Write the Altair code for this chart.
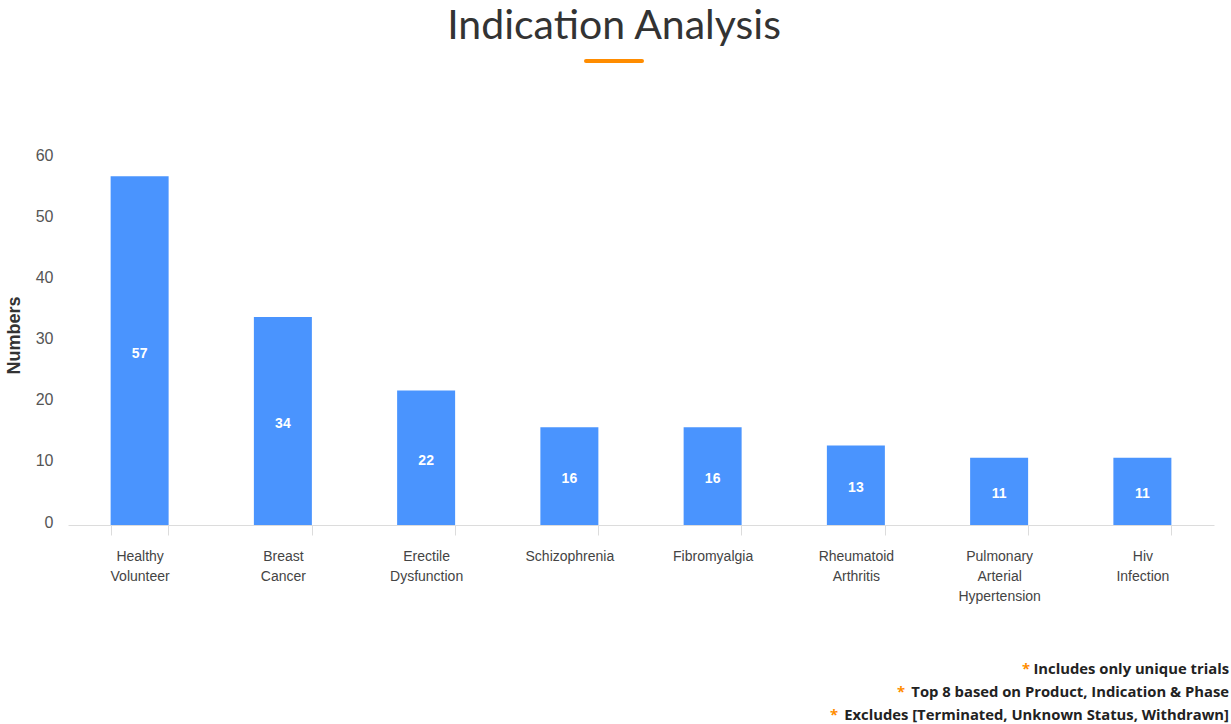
import altair as alt
import pandas as pd

categories = ["Healthy Volunteer", "Breast Cancer", "Erectile Dysfunction", "Schizophrenia",
              "Fibromyalgia", "Rheumatoid Arthritis", "Pulmonary Arterial Hypertension", "Hiv Infection"]
values = [57, 34, 22, 16, 16, 13, 11, 11]
notes = ["Includes only unique trials",
         "Top 8 based on Product, Indication & Phase",
         "Excludes [Terminated, Unknown Status, Withdrawn]"]
note_y = [670, 693, 716]
note_star_x = [1026, 901, 834]

df = pd.DataFrame({"cat": categories, "val": values})
W, H = 1146, 367
PL, PT = 68, 158

x = alt.X("cat:N", sort=categories, title=None,
          scale=alt.Scale(paddingInner=0.6, paddingOuter=0.3),
          axis=alt.Axis(labelAngle=0, labelExpr="split(datum.label, ' ')",
                        labelFont="Liberation Sans", labelFontSize=14, labelColor="#444",
                        labelLineHeight=20, labelPadding=14, labelBaseline="top",
                        tickBand="extent", tickSize=10, tickColor="#dcdcdc",
                        domainColor="#dcdcdc", grid=False))

y = alt.Y("val:Q", scale=alt.Scale(domain=[0, 60], nice=False),
          axis=alt.Axis(values=[0, 10, 20, 30, 40, 50, 60], domain=False, ticks=False, grid=False,
                        labelFont="Liberation Sans", labelFontSize=16, labelColor="#555",
                        labelPadding=15, labelOffset=-3, title="Numbers", titleFont="Liberation Sans",
                        titleFontSize=18, titleFontWeight="bold", titleColor="#333",
                        titlePadding=12, titleY=177))

bars = alt.Chart(df).mark_bar(color="#4A94FE", size=58).encode(x=x, y=y)

labels = alt.Chart(df).transform_calculate(mid="datum.val / 2").mark_text(
    color="white", font="Liberation Sans", fontSize=14, fontWeight="bold", baseline="middle", dy=3
).encode(x=alt.X("cat:N", sort=categories), y=alt.Y("mid:Q"), text="val:Q")

one = pd.DataFrame({"a": [0]})

title = alt.Chart(one).mark_text(
    text="Indication Analysis", font="Lato", fontSize=41, color="#333", align="center", baseline="middle"
).encode(x=alt.value(614 - PL), y=alt.value(27 - PT))

underline = alt.Chart(one).mark_rule(
    color="#FF8C00", strokeWidth=4, strokeCap="round"
).encode(x=alt.value(586 - PL), x2=alt.value(642 - PL), y=alt.value(61 - PT))

layers = [bars, labels, title, underline]
for n, ny, sx in zip(notes, note_y, note_star_x):
    layers.append(alt.Chart(one).mark_text(
        text=n, font="Open Sans", fontSize=14.8, fontWeight="bold", color="#222",
        align="right", baseline="middle"
    ).encode(x=alt.value(1229 - PL), y=alt.value(ny - PT)))
    layers.append(alt.Chart(one).mark_text(
        text="*", font="Open Sans", fontSize=14.8, fontWeight="bold", color="#FF8C00",
        align="center", baseline="middle"
    ).encode(x=alt.value(sx - PL), y=alt.value(ny - PT)))

chart = alt.layer(*layers).properties(
    width=W, height=H,
    autosize=alt.AutoSizeParams(type="none"),
    padding={"left": PL, "top": PT, "right": 1231 - PL - W, "bottom": 724 - PT - H},
    background="white",
).configure_view(stroke=None)

chart.save("out.html", embed_options={"renderer": "svg", "actions": False})
